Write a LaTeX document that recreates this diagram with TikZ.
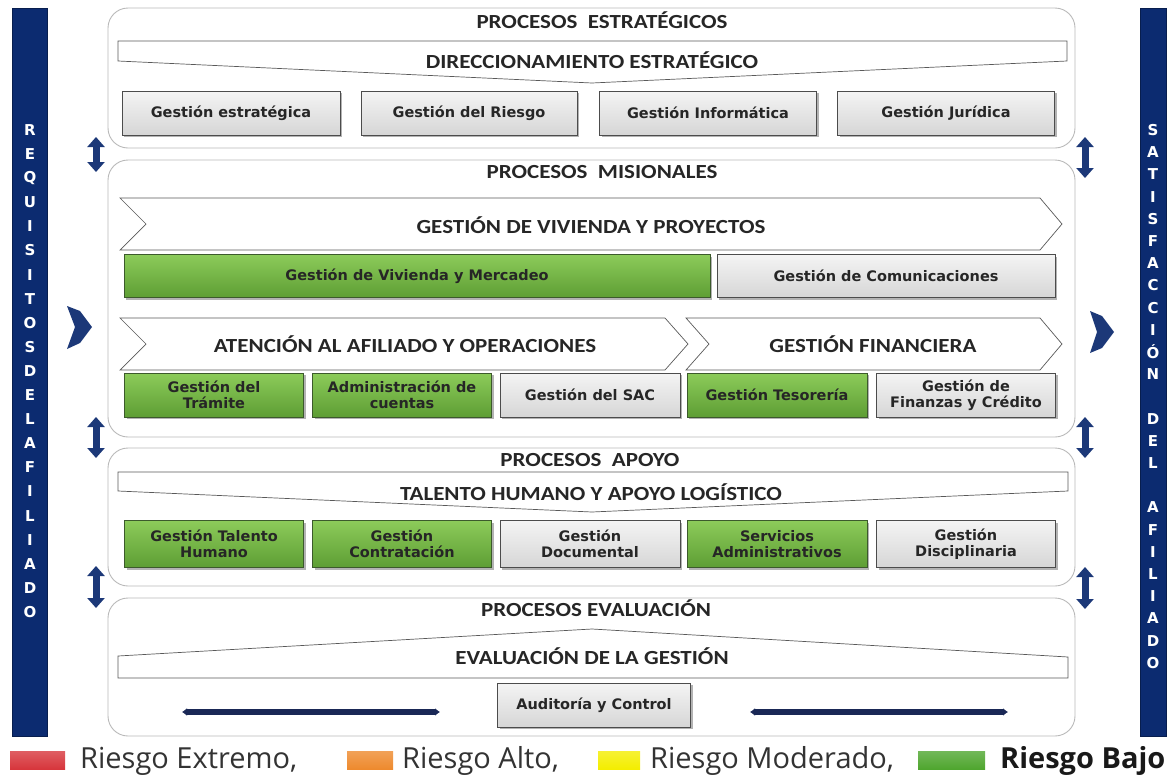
\documentclass[tikz,border=0pt]{standalone}
\usepackage{fontspec}
\setmainfont{DejaVu Sans}
\newfontfamily\calibri[FakeStretch=1.15]{Carlito}
\newfontfamily\leyenda{Open Sans}
\usetikzlibrary{arrows.meta,shadows}
\definecolor{azul}{HTML}{0C2B70}
\definecolor{azulflecha}{HTML}{1C3878}
\definecolor{azullinea}{HTML}{1A2856}
\definecolor{gris1}{HTML}{F4F4F4}
\definecolor{gris2}{HTML}{D6D6D6}
\definecolor{verde1}{HTML}{8CCB5A}
\definecolor{verde2}{HTML}{5E9E34}
\definecolor{verde3}{HTML}{3C5A2C}
\definecolor{rojo}{HTML}{D7363C}
\definecolor{naranja}{HTML}{EE8A2E}
\definecolor{amarillo}{HTML}{F4EE00}
\definecolor{verdeley}{HTML}{4FA62F}
\begin{document}
\begin{tikzpicture}[x=1pt,y=-1pt,
	panel/.style={draw=gray!55,line width=0.9pt,rounded corners=20pt},
	banda/.style={draw=black!65,line width=0.7pt,fill=white},
	titulo/.style={font=\calibri\bfseries\fontsize{20}{21}\selectfont,text=black!85},
	cajagris/.style={draw=black!70,line width=0.7pt,top color=gris1,bottom color=gris2,
		drop shadow={shadow xshift=2pt,shadow yshift=-2pt,fill=black!50,opacity=0.6},
		font=\bfseries\fontsize{14.5}{16}\selectfont,text=black!85,align=center,
		minimum height=44pt,inner sep=1pt},
	cajaverde/.style={cajagris,top color=verde1,bottom color=verde2,draw=verde3},
	vert/.style={{Triangle[width=17pt,length=10pt]}-{Triangle[width=17pt,length=10pt]},line width=7pt,draw=azulflecha},
	horiz/.style={{Latex[width=8pt,length=5pt]}-{Latex[width=8pt,length=5pt]},line width=5.5pt,draw=azullinea},
	letra/.style={text=white,font=\bfseries\fontsize{15}{15}\selectfont,inner sep=0pt},
	textoley/.style={anchor=west,font=\leyenda\fontsize{29}{30}\selectfont,text=black!80,inner sep=0pt}]
	\useasboundingbox (0,0) rectangle (1171,782);
	% barras laterales
	\draw[fill=azul,draw=azul!70!black] (12,8) rectangle (47,736);
	\draw[fill=azul,draw=azul!70!black] (1140,8) rectangle (1166,736);
	\foreach \l [count=\i from 0] in {R,E,Q,U,I,S,I,T,O,S,D,E,L,A,F,I,L,I,A,D,O}
		\node[letra] (izq\i) at (30,130+24.1*\i) {\l};
	\foreach \l [count=\i from 0] in {S,A,T,I,S,F,A,C,C,I,Ó,N,{},D,E,L,{},A,F,I,L,I,A,D,O}
		\node[letra] (der\i) at (1153,130+22.2*\i) {\l};
	% paneles
	\draw[panel] (108,8) rectangle (1075,148);
	\draw[panel] (108,160) rectangle (1075,437);
	\draw[panel] (108,448) rectangle (1075,586);
	\draw[panel] (108,598) rectangle (1075,736);
	\node[titulo] (tes) at (602,20) {PROCESOS \ ESTRATÉGICOS};
	\node[titulo] (tmi) at (602,172) {PROCESOS \ MISIONALES};
	\node[titulo] (tap) at (590,460) {PROCESOS \ APOYO};
	\node[titulo] (tev) at (596,608) {PROCESOS EVALUACIÓN};
	% bandas
	\draw[banda] (118,41) -- (1067,41) -- (1067,61) -- (592,83) -- (118,61) -- cycle;
	\node[titulo] (bdir) at (592,60) {DIRECCIONAMIENTO ESTRATÉGICO};
	\draw[banda] (120,198) -- (1040,198) -- (1062,224) -- (1040,250) -- (120,250) -- (146,224) -- cycle;
	\node[titulo] (bviv) at (591,225) {GESTIÓN DE VIVIENDA Y PROYECTOS};
	\draw[banda] (120,318) -- (665,318) -- (688,344) -- (665,370) -- (120,370) -- (146,344) -- cycle;
	\node[titulo] (bate) at (405,344) {ATENCIÓN AL AFILIADO Y OPERACIONES};
	\draw[banda] (686,318) -- (1040,318) -- (1062,344) -- (1040,370) -- (686,370) -- (709,344) -- cycle;
	\node[titulo] (bfin) at (873,344) {GESTIÓN FINANCIERA};
	\draw[banda] (118,472) -- (1068,472) -- (1068,491) -- (592,512) -- (118,491) -- cycle;
	\node[titulo] (btal) at (591,492) {TALENTO HUMANO Y APOYO LOGÍSTICO};
	\draw[banda] (118,678) -- (1068,678) -- (1068,657) -- (592,629) -- (118,656) -- cycle;
	\node[titulo] (beva) at (592,656) {EVALUACIÓN DE LA GESTIÓN};
	% cajas
	\node[cajagris,minimum width=218pt] (gest) at (231,113) {Gestión estratégica};
	\node[cajagris,minimum width=216pt] (grie) at (469,113) {Gestión del Riesgo};
	\node[cajagris,minimum width=217pt] (ginf) at (708,113) {Gestión Informática};
	\node[cajagris,minimum width=217pt] (gjur) at (946,113) {Gestión Jurídica};
	\node[cajaverde,minimum width=586pt,minimum height=43pt] (gviv) at (417,276) {Gestión de Vivienda y Mercadeo};
	\node[cajagris,minimum width=338pt,minimum height=43pt] (gcom) at (886,276) {Gestión de Comunicaciones};
	\node[cajaverde,minimum width=179pt] (gtra) at (214,395) {Gestión del\\Trámite};
	\node[cajaverde,minimum width=179pt] (gcue) at (402,395) {Administración de\\cuentas};
	\node[cajagris,minimum width=180pt] (gsac) at (590,395) {Gestión del SAC};
	\node[cajaverde,minimum width=180pt] (gtes) at (777,395) {Gestión Tesorería};
	\node[cajagris,minimum width=179pt] (gfin) at (966,395) {Gestión de\\Finanzas y Crédito};
	\node[cajaverde,minimum width=179pt,minimum height=47pt] (gtal) at (214,544) {Gestión Talento\\Humano};
	\node[cajaverde,minimum width=179pt,minimum height=47pt] (gcon) at (402,544) {Gestión\\Contratación};
	\node[cajagris,minimum width=180pt,minimum height=47pt] (gdoc) at (590,544) {Gestión\\Documental};
	\node[cajaverde,minimum width=180pt,minimum height=47pt] (gser) at (777,544) {Servicios\\Administrativos};
	\node[cajagris,minimum width=179pt,minimum height=47pt] (gdis) at (966,544) {Gestión\\Disciplinaria};
	\node[cajagris,minimum width=193pt] (gaud) at (594,705) {Auditoría y Control};
	% flechas
	\coordinate (i1a) at (96,137); \coordinate (i1b) at (96,172);
	\coordinate (i2a) at (96,417); \coordinate (i2b) at (96,458);
	\coordinate (i3a) at (96,566); \coordinate (i3b) at (96,608);
	\coordinate (d1a) at (1085,137); \coordinate (d1b) at (1085,178);
	\coordinate (d2a) at (1085,417); \coordinate (d2b) at (1085,458);
	\coordinate (d3a) at (1085,567); \coordinate (d3b) at (1085,609);
	\draw[vert] (i1a) -- (i1b);
	\draw[vert] (i2a) -- (i2b);
	\draw[vert] (i3a) -- (i3b);
	\draw[vert] (d1a) -- (d1b);
	\draw[vert] (d2a) -- (d2b);
	\draw[vert] (d3a) -- (d3b);
	\fill[azulflecha] (67,306) -- (80,311) -- (92,327) -- (80,343) -- (67,349) -- (75,327) -- cycle;
	\fill[azulflecha] (1090,311) -- (1102,316) -- (1114,332) -- (1102,348) -- (1090,353) -- (1097,332) -- cycle;
	\coordinate (h1a) at (182,712); \coordinate (h1b) at (440,712);
	\coordinate (h2a) at (750,712); \coordinate (h2b) at (1008,712);
	\draw[horiz] (h1a) -- (h1b);
	\draw[horiz] (h2a) -- (h2b);
	% leyenda
	\shade[top color=rojo!80,bottom color=rojo] (10,751) rectangle (65,769);
	\node[textoley] (lext) at (80,761) {Riesgo Extremo,};
	\shade[top color=naranja!80,bottom color=naranja] (347,751) rectangle (393,769);
	\node[textoley] (lalt) at (402,761) {Riesgo Alto,};
	\shade[top color=amarillo!80,bottom color=amarillo] (598,751) rectangle (640,769);
	\node[textoley] (lmod) at (650,761) {Riesgo Moderado,};
	\shade[top color=verdeley!80,bottom color=verdeley] (918,751) rectangle (985,769);
	\node[textoley,font=\leyenda\bfseries\fontsize{29}{30}\selectfont,text=black!90] (lbaj) at (1000,761) {Riesgo Bajo};
\end{tikzpicture}
\end{document}
